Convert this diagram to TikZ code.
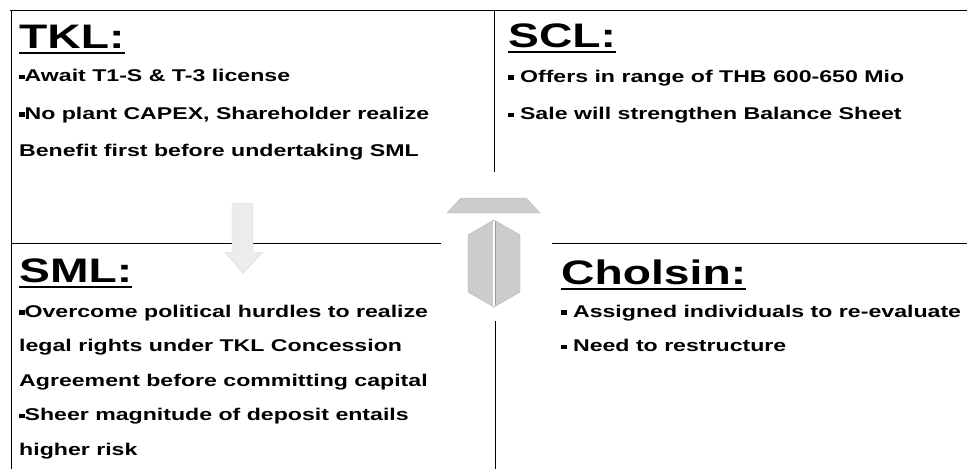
\documentclass[tikz,border=0pt]{standalone}
\usepackage{fontspec}
\setmainfont{Liberation Sans}[FakeStretch=1.36]
\usetikzlibrary{positioning}

\newcommand{\bul}{\rule[0.13em]{0.32em}{0.28em}}

\begin{document}
\begin{tikzpicture}[
        x=1pt, y=-1pt,
        heading/.style={anchor=base west, inner sep=0pt, font=\fontsize{34}{40}\selectfont\bfseries},
        body/.style={inner sep=0pt, align=left, font=\fontsize{17}{#1}\selectfont\bfseries},
        uline/.style={line width=1.8pt},
        frame/.style={line width=0.7pt},
        down_arrow/.style={fill=gray!15, draw=gray!35, line width=0.4pt},
        up_arrow/.style={fill=gray!40, draw=gray!60, line width=0.4pt}
    ]
    \useasboundingbox (0,0) rectangle (967,469);
    \draw[frame] (10,10) -- (967,10);
    \draw[frame] (11,10) -- (11,469);
    \draw[frame] (494,10) -- (494,172);
    \draw[frame] (11,243) -- (441,243);
    \draw[frame] (552,243) -- (967,243);
    \draw[frame] (495,321) -- (495,469);
    \node[heading] (tkl_head) at (19,48) {TKL:};
    \node[body=37.5pt, below right=21pt and 0pt of tkl_head.base west] (tkl_body) {\bul Await T1-S \& T-3 license\\ \bul No plant CAPEX,  Shareholder realize\\ Benefit first before undertaking SML};
    \node[heading] (scl_head) at (508,47) {SCL:};
    \node[body=37.5pt, below right=22.5pt and 0pt of scl_head.base west] (scl_body) {\bul\ Offers in range of THB 600-650 Mio\\ \bul\ Sale will strengthen Balance Sheet};
    \node[heading] (sml_head) at (19,282) {SML:};
    \node[body=34.5pt, below right=22.5pt and 0pt of sml_head.base west] (sml_body) {\bul Overcome political hurdles to realize\\ legal rights under TKL Concession\\ Agreement before committing capital\\ \bul Sheer magnitude of deposit entails\\ higher risk};
    \node[heading] (cholsin_head) at (561,284) {Cholsin:};
    \node[body=34.5pt, below right=20.6pt and 0pt of cholsin_head.base west] (cholsin_body) {\bul\ Assigned individuals to re-evaluate\\ \bul\ Need to restructure};
    \foreach \h in {tkl_head, scl_head, sml_head, cholsin_head}
        \draw[uline] ([yshift=-5pt]\h.base west) -- ([yshift=-5pt]\h.base east);
    \draw[down_arrow] (232,203) -- (253,203) -- (253,252) -- (263,252) -- (243,273) -- (225,252) -- (232,252) -- cycle;
    \draw[up_arrow] (461,198) -- (526,198) -- (540,213) -- (447,213) -- cycle;
    \draw[up_arrow] (494,220) -- (520,235) -- (520,292) -- (494,307) -- (468,292) -- (468,235) -- cycle;
    \draw[white, line width=1.6pt] (494,221) -- (494,306);
    \draw[gray!80, line width=0.6pt] (495.5,222) -- (495.5,305);
\end{tikzpicture}
\end{document}
